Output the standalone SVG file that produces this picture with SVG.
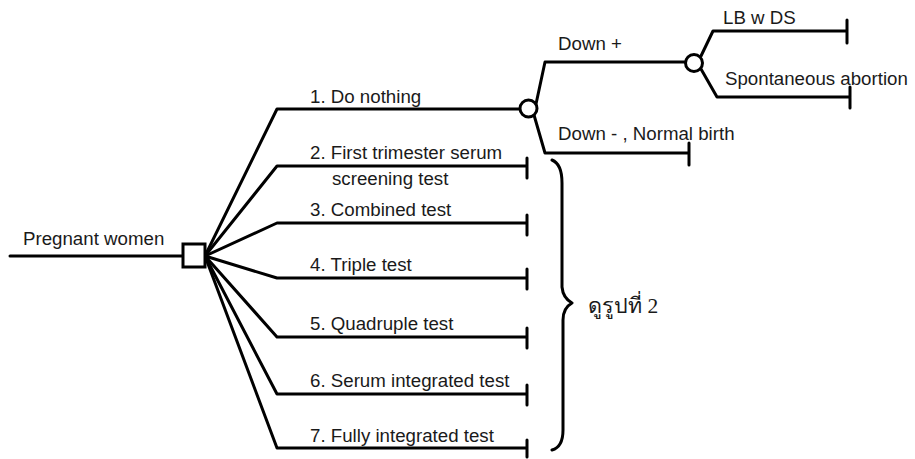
<svg xmlns="http://www.w3.org/2000/svg" width="915" height="459" viewBox="0 0 915 459">
<style>
.ln{fill:none;stroke:#000;stroke-width:3;stroke-linejoin:round;stroke-linecap:round}
.nd{fill:#fff;stroke:#000;stroke-width:3}
text{font-family:"Liberation Sans",Arial,sans-serif;font-size:18.7px;fill:#1a1a1a}
.th{font-family:"Liberation Serif","DejaVu Serif",serif;font-size:21.5px}
</style>
<rect width="915" height="459" fill="#fff"/>
<g id="connectors">
<path class="ln" d="M10 256H183"/>
<path class="ln" d="M205 256L277 109H520"/>
<path class="ln" d="M205 256L277 166H527M527 158V178"/>
<path class="ln" d="M205 256L277 223H527M527 215V235"/>
<path class="ln" d="M205 256L277 278H527M527 269V289"/>
<path class="ln" d="M205 256L277 337H527M527 328V348"/>
<path class="ln" d="M205 256L277 394H527M527 385V405"/>
<path class="ln" d="M205 256L277 448H527M527 440V457"/>
<path class="ln" d="M536 104L545 62H686"/>
<path class="ln" d="M534 115L545 153H689M689 143V165"/>
<path class="ln" d="M701 56L713 31H847M847 20V43"/>
<path class="ln" d="M701 69L717 97H850M850 87V108"/>
<path class="ln" d="M552 160Q562 164 562 183V287Q563 298 572 303Q563 308 563 320V430Q563 447 552 450"/>
</g>
<g id="root"><rect class="nd" x="183" y="244" width="22" height="23"/><text x="23" y="245">Pregnant women</text></g>
<g id="chance1"><circle class="nd" cx="528.5" cy="108.5" r="8.5"/></g>
<g id="chance2"><circle class="nd" cx="694" cy="63" r="8.5"/></g>
<g id="opt1"><text x="310" y="103">1. Do nothing</text></g>
<g id="opt2"><text x="310" y="159">2. First trimester serum</text><text x="332" y="185">screening test</text></g>
<g id="opt3"><text x="310" y="216">3. Combined test</text></g>
<g id="opt4"><text x="310" y="271">4. Triple test</text></g>
<g id="opt5"><text x="310" y="330">5. Quadruple test</text></g>
<g id="opt6"><text x="310" y="387">6. Serum integrated test</text></g>
<g id="opt7"><text x="310" y="442">7. Fully integrated test</text></g>
<g id="downpos"><text x="558" y="50">Down +</text></g>
<g id="downneg"><text x="558" y="140">Down - , Normal birth</text></g>
<g id="lbds"><text x="723" y="24">LB w DS</text></g>
<g id="abort"><text x="725" y="85">Spontaneous abortion</text></g>
<g id="note"><text class="th" x="588" y="313">ดูรูปที่ 2</text></g>
</svg>
